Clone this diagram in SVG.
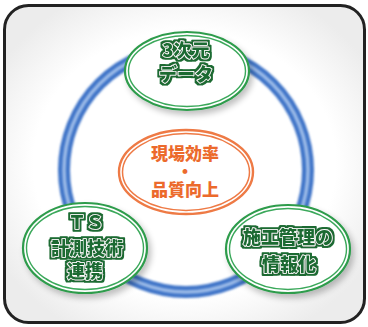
<svg xmlns="http://www.w3.org/2000/svg" width="368" height="327" viewBox="0 0 368 327">
<defs>
<radialGradient id="bg" cx="50%" cy="50%" r="60%">
<stop offset="0.7" stop-color="#ffffff"/>
<stop offset="1" stop-color="#ececec"/>
</radialGradient>
<filter id="sh" x="-20%" y="-20%" width="150%" height="150%">
<feGaussianBlur in="SourceAlpha" stdDeviation="3"/>
<feOffset dx="3" dy="4" result="b"/>
<feComponentTransfer><feFuncA type="linear" slope="0.25"/></feComponentTransfer>
<feMerge><feMergeNode/><feMergeNode in="SourceGraphic"/></feMerge>
</filter>
<filter id="halo" x="-10%" y="-20%" width="120%" height="140%">
<feMorphology in="SourceAlpha" operator="dilate" radius="1.6" result="d"/>
<feFlood flood-color="#1b6b32"/>
<feComposite in2="d" operator="in" result="h"/>
<feMerge><feMergeNode in="h"/><feMergeNode in="SourceGraphic"/></feMerge>
</filter>
<filter id="blur1"><feGaussianBlur stdDeviation="0.8"/></filter>
</defs>
<style>
.g-out{fill:#ffffff;stroke:#2e9c4c;stroke-width:2.2}
.g-in{fill:none;stroke:#3aa85a;stroke-width:1.4}
.o-out{fill:#ffffff;stroke:#ee7a45;stroke-width:2.4}
.o-in{fill:none;stroke:#ee7a45;stroke-width:1.5}
.gt{font-family:"Noto Sans CJK JP","Noto Sans",sans-serif;font-weight:900;font-size:18px;fill:#1b6b32;stroke:#ffffff;stroke-width:1.6;paint-order:stroke;stroke-linejoin:round;text-anchor:middle}
.ot{font-family:"Noto Sans CJK JP","Noto Sans",sans-serif;font-weight:900;font-size:17px;fill:#ec6a2c;text-anchor:middle}
</style>
<rect x="4.5" y="5.5" width="360" height="317" rx="24" fill="url(#bg)" stroke="#222222" stroke-width="3"/>
<g id="connectors">
<circle cx="186" cy="170" r="122" fill="none" stroke="#3f74c8" stroke-width="12" filter="url(#blur1)"/>
<circle cx="186" cy="170" r="122" fill="none" stroke="#9cbbe8" stroke-width="3.5" filter="url(#blur1)"/>
</g>
<g id="center">
<ellipse cx="186" cy="172" rx="67" ry="42" class="o-out"/>
<ellipse cx="186" cy="172" rx="63.5" ry="38.5" class="o-in"/>
<text x="185" y="160" class="ot">現場効率</text>
<text x="185" y="178" class="ot">・</text>
<text x="185" y="196" class="ot">品質向上</text>
</g>
<g id="top" filter="url(#sh)">
<ellipse cx="187" cy="71" rx="62" ry="39" class="g-out"/>
<ellipse cx="187" cy="71" rx="58.5" ry="35.5" class="g-in"/>
<g filter="url(#halo)">
<text x="186" y="57" class="gt">3次元</text>
<text x="186" y="81" class="gt">データ</text>
</g>
</g>
<g id="left" filter="url(#sh)">
<ellipse cx="85" cy="248" rx="62" ry="45" class="g-out"/>
<ellipse cx="85" cy="248" rx="58.5" ry="41.5" class="g-in"/>
<g filter="url(#halo)">
<text x="86" y="229" class="gt">ＴＳ</text>
<text x="87" y="255" class="gt">計測技術</text>
<text x="85" y="278" class="gt">連携</text>
</g>
</g>
<g id="right" filter="url(#sh)">
<ellipse cx="288" cy="249" rx="62" ry="44" class="g-out"/>
<ellipse cx="288" cy="249" rx="58.5" ry="40.5" class="g-in"/>
<g filter="url(#halo)">
<text x="288" y="244" class="gt">施工管理の</text>
<text x="289" y="271" class="gt">情報化</text>
</g>
</g>
</svg>
